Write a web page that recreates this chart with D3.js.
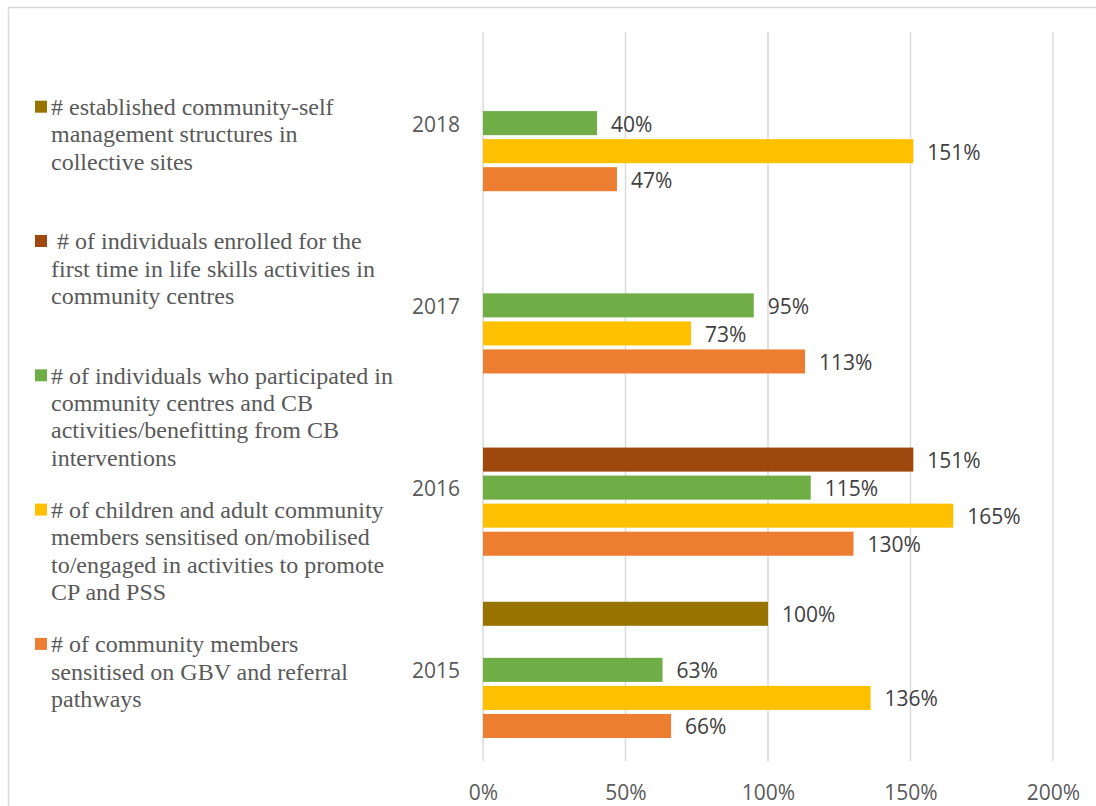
<!DOCTYPE html>
<html>
<head>
<meta charset="utf-8">
<script src="https://cdn.jsdelivr.net/npm/d3@7"></script>
<style>
  body { margin: 0; background: #fff; }
  svg { display: block; }
  .legend text { white-space: pre; }
</style>
</head>
<body>
<svg id="chart" width="1096" height="806"></svg>
<script>
// Years shown top to bottom
const years = ["2018", "2017", "2016", "2015"];

// Indicator names, one entry per line of the legend label
const seriesLabels = [
  ["# established community-self", "management structures in", "collective sites"],
  [" # of individuals enrolled for the", "first time in life skills activities in", "community centres"],
  ["# of individuals who participated in", "community centres and CB", "activities/benefitting from CB", "interventions"],
  ["# of children and adult community", "members sensitised on/mobilised", "to/engaged in activities to promote", "CP and PSS"],
  ["# of community members", "sensitised on GBV and referral", "pathways"]
];
const seriesColors = ["#997300", "#9E480E", "#70AD47", "#FFC000", "#ED7D31"];

// Achievement (% of target) per year, in the order of `years`
const selfManagement = [null, null, null, 100];
const enrolledLifeSkills = [null, null, 151, null];
const participatedCB = [40, 95, 115, 63];
const sensitisedCPPSS = [151, 73, 165, 136];
const sensitisedGBV = [47, 113, 130, 66];

const xTicks = [0, 50, 100, 150, 200];

const seriesValues = [selfManagement, enrolledLifeSkills, participatedCB, sensitisedCPPSS, sensitisedGBV];
const seriesKeys = d3.range(seriesValues.length);

const svg = d3.select("#chart");

// Outer chart frame
svg.append("rect")
  .attr("x", 8.5).attr("y", 7.5)
  .attr("width", 1100).attr("height", 810)
  .attr("fill", "none").attr("stroke", "#D9D9D9").attr("stroke-width", 1.5);

const plotTop = 32, plotBottom = 761;
const x = d3.scaleLinear().domain([0, 200]).range([483, 1053]);
const y = d3.scaleBand().domain(years).range([plotTop, plotBottom]).padding(0);
const inner = d3.scaleBand().domain(seriesKeys).range([0, y.bandwidth()])
  .paddingInner(0).paddingOuter(0.75);

// Vertical gridlines
svg.append("g").selectAll("line")
  .data(xTicks).join("line")
  .attr("x1", d => x(d)).attr("x2", d => x(d))
  .attr("y1", plotTop).attr("y2", plotBottom)
  .attr("stroke", "#D9D9D9").attr("stroke-width", 1.5);

// Value axis labels
const xAxis = d3.axisBottom(x).tickValues(xTicks).tickFormat(d => d + "%").tickSize(0).tickPadding(0);
const gx = svg.append("g").attr("transform", `translate(0,${plotBottom})`).call(xAxis);
gx.select(".domain").remove();
gx.selectAll("text")
  .attr("y", 32).attr("dy", "0.35em")
  .attr("font-family", "'Open Sans', sans-serif").attr("font-size", 21).attr("fill", "#595959");

// Year labels
const yAxis = d3.axisLeft(y).tickSize(0).tickPadding(0);
const gy = svg.append("g").attr("transform", "translate(460,0)").call(yAxis);
gy.select(".domain").remove();
gy.selectAll("text")
  .attr("x", 0).attr("dy", "0.4em")
  .attr("font-family", "'Open Sans', sans-serif").attr("font-size", 21).attr("fill", "#595959");

// Bars and value labels
const barData = [];
seriesValues.forEach((vals, s) => {
  vals.forEach((v, i) => {
    if (v !== null) barData.push({ year: years[i], s, v });
  });
});

const barInset = 2;
svg.append("g").selectAll("rect")
  .data(barData).join("rect")
  .attr("x", x(0))
  .attr("y", d => y(d.year) + inner(d.s) + barInset)
  .attr("width", d => x(d.v) - x(0))
  .attr("height", inner.bandwidth() - 2 * barInset)
  .attr("fill", d => seriesColors[d.s]);

svg.append("g").selectAll("text")
  .data(barData).join("text")
  .attr("x", d => x(d.v) + 14)
  .attr("y", d => y(d.year) + inner(d.s) + inner.bandwidth() / 2)
  .attr("dy", "0.4em")
  .attr("font-family", "'Open Sans', sans-serif").attr("font-size", 21).attr("fill", "#404040")
  .text(d => d.v + "%");

// Legend
const legendTop = 115, legendStep = 134.3, lineHeight = 27.4;
const legend = svg.append("g").attr("class", "legend");
const items = legend.selectAll("g").data(seriesKeys).join("g")
  .attr("transform", s => `translate(0,${legendTop + s * legendStep})`);
items.append("rect")
  .attr("x", 35).attr("y", -14.3).attr("width", 12).attr("height", 12)
  .attr("fill", s => seriesColors[s]);
items.append("text")
  .attr("font-family", "'Liberation Serif', 'Times New Roman', serif")
  .attr("font-size", 24).attr("fill", "#595959")
  .selectAll("tspan").data(s => seriesLabels[s]).join("tspan")
  .attr("x", 51).attr("y", (d, i) => i * lineHeight)
  .text(d => d);
</script>
</body>
</html>
